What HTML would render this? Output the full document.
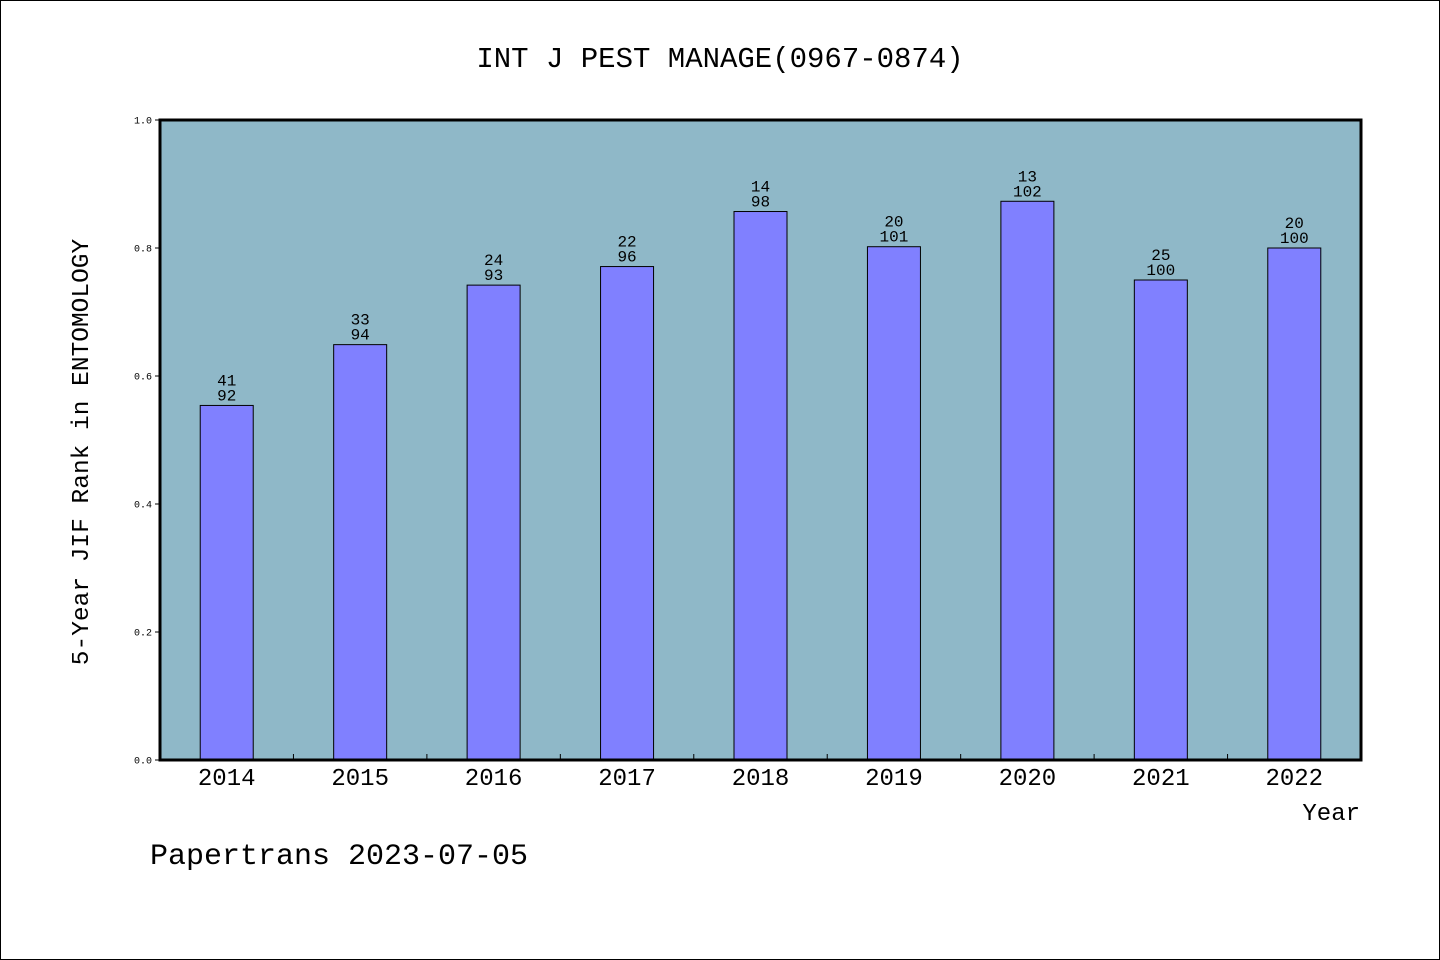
<!DOCTYPE html>
<html><head><meta charset="utf-8"><style>
html,body{margin:0;padding:0;background:#fff}
svg{display:block}
text{font-family:"Liberation Mono","Noto Sans CJK SC",monospace;fill:#000}
</style></head><body>
<svg id="chart" width="1440" height="960">
<rect x="0.5" y="0.5" width="1439" height="959" fill="#fff" stroke="#000"/>
<text x="720" y="67" font-size="29" text-anchor="middle">INT J PEST MANAGE(0967-0874)</text>
<rect x="160" y="120" width="1201" height="640" fill="#8fb8c8"/>
<g id="marks"></g>
<rect x="160" y="120" width="1201" height="640" fill="none" stroke="#000" stroke-width="3"/>
<text transform="translate(88,452) rotate(-90)" font-size="24.5" text-anchor="middle">5-Year JIF Rank in ENTOMOLOGY</text>
<text x="1360" y="820" font-size="24" text-anchor="end">Year</text>
<text x="150" y="864" font-size="30">Papertrans 2023-07-05</text>
</svg>
<script>
const years=["2014","2015","2016","2017","2018","2019","2020","2021","2022"];
const ranks=[41,33,24,22,14,20,13,25,20];
const totals=[92,94,93,96,98,101,102,100,100];
const values=[0.554,0.649,0.742,0.771,0.857,0.802,0.873,0.75,0.8];
const yTicks=["0.0","0.2","0.4","0.6","0.8","1.0"];
const X0=160,X1=1361,Y0=760,Y1=120;
const n=years.length,bw=(X1-X0)/n;
const xs=i=>X0+bw*(i+0.5);
const ys=v=>Y0-(Y0-Y1)*v;
const g=document.getElementById('marks');
const NS="http://www.w3.org/2000/svg";
function mk(t,a){const e=document.createElementNS(NS,t);for(const k in a)e.setAttribute(k,a[k]);g.appendChild(e);return e;}
yTicks.forEach(t=>{const v=parseFloat(t),y=ys(v);
 const l=mk('line',{x1:X0-5,x2:X0,y1:y,y2:y,stroke:'#000'});
 
 
 const tx=mk('text',{x:X0-8,y:y+3.5,'font-size':10,'text-anchor':'end'});tx.textContent=t;
 
 
});
for(let i=1;i<n;i++){const x=X0+bw*i;
 const l=mk('line',{x1:x,x2:x,y1:Y0,y2:Y0-6,stroke:'#000'});
 
 
}
years.forEach((yr,i)=>{const cx=xs(i),top=ys(values[i]);
 const r=mk('rect',{x:cx-26.5,y:top,width:53,height:Y0-top,fill:'#8080ff',stroke:'#000','stroke-width':1});
 
 
 const a=mk('text',{x:cx,y:top-20,'font-size':16,'text-anchor':'middle'});a.textContent=ranks[i];
 
 
 const b=mk('text',{x:cx,y:top-5,'font-size':16,'text-anchor':'middle'});b.textContent=totals[i];
 
 
 const t=mk('text',{x:cx,y:785,'font-size':24,'text-anchor':'middle'});t.textContent=yr;
 
 
});
</script>
</body></html>
